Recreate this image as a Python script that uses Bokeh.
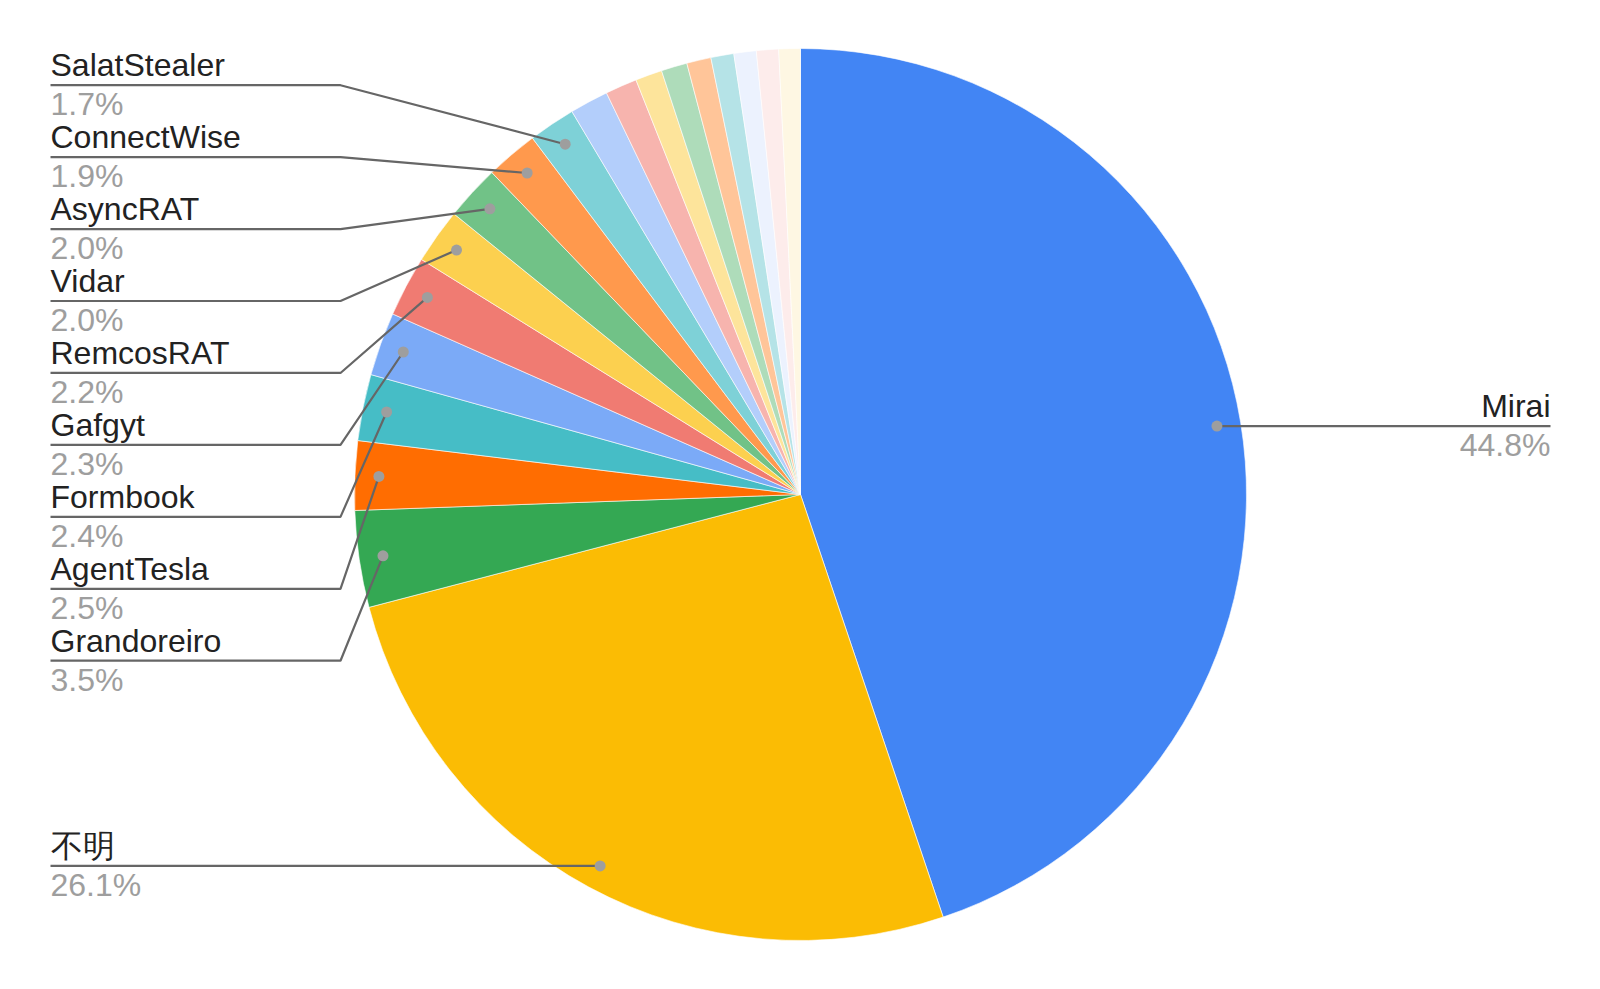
import math
from bokeh.plotting import figure
from bokeh.models import Range1d, ColumnDataSource
from bokeh.core.properties import value
from bokeh.embed import file_html
from bokeh.resources import INLINE

# ---- data ----
names = ["Mirai", "不明", "Grandoreiro", "AgentTesla", "Formbook", "Gafgyt",
         "RemcosRAT", "Vidar", "AsyncRAT", "ConnectWise", "SalatStealer",
         "", "", "", "", "", "", "", "", ""]
values = [44.8, 26.1, 3.5, 2.5, 2.4, 2.3, 2.2, 2.0, 2.0, 1.9, 1.7,
          1.4, 1.15, 0.97, 0.94, 0.88, 0.83, 0.81, 0.80, 0.78]
colors = ["#4285f4", "#fbbc04", "#34a853", "#ff6d01", "#46bdc6", "#7baaf7",
          "#f07b72", "#fcd04f", "#71c287", "#ff994d", "#7ed1d7",
          "#b3cefb", "#f7b4ae", "#fde49b", "#aedcba", "#ffc599", "#b5e3e7",
          "#ecf2fe", "#fdeceb", "#fef7e3"]
# which labeled slices go in the stacked left column (top to bottom)
left_stack = ["SalatStealer", "ConnectWise", "AsyncRAT", "Vidar", "RemcosRAT",
              "Gafgyt", "Formbook", "AgentTesla", "Grandoreiro"]

# ---- layout ----
W, H = 1580, 970
OFF = 0  # screen offset of the plot frame
SH = 989
def Y(sy):
    return SH - sy

CX, CY, R = 800, 494, 446
DOT_R = 422
FONT = value("Liberation Sans")
FS = "32px"
NAME_COLOR = "#222222"
PCT_COLOR = "#9e9e9e"
LINE_COLOR = "#666666"

p = figure(width=W, height=H, output_backend="svg", toolbar_location=None,
           x_range=Range1d(OFF, OFF + W), y_range=Range1d(Y(OFF + H), Y(OFF)),
           x_axis_type=None, y_axis_type=None, min_border=0)
p.outline_line_color = None
p.grid.visible = False
p.background_fill_color = "white"

total = sum(values)
starts, ends, mids = [], [], []
c = 0.0
for v in values:
    c0 = c / total
    c += v
    c1 = c / total
    starts.append(math.pi / 2 - 2 * math.pi * c0)
    ends.append(math.pi / 2 - 2 * math.pi * c1)
    mids.append(math.pi / 2 - 2 * math.pi * (c0 + c1) / 2)

src = ColumnDataSource(dict(start=starts, end=ends, color=colors))
p.wedge(x=CX, y=Y(CY), radius=R, start_angle="start", end_angle="end",
        direction="clock", fill_color="color", line_color="white",
        line_width=0.6, source=src)

def pct(v):
    return f"{v:.1f}%"

dot_x, dot_y = [], []
lx, ly = [], []

NAME_DY = 20
PCT_DY = -19

for i, (n, v) in enumerate(zip(names, values)):
    if not n:
        continue
    dx = CX + DOT_R * math.cos(mids[i])
    dy = Y(CY) + DOT_R * math.sin(mids[i])
    dot_x.append(dx)
    dot_y.append(dy)
    if n in left_stack:
        k = left_stack.index(n)
        line_y = Y(84.7 + k * 71.94)
        lx.append([50, 340, dx])
        ly.append([line_y, line_y, dy])
        tx, align = 50, "left"
    elif mids[i] > -math.pi / 2 and mids[i] < math.pi / 2:
        line_y = dy
        lx.append([dx, 1550])
        ly.append([line_y, line_y])
        tx, align = 1550, "right"
    else:
        line_y = dy
        lx.append([50, dx])
        ly.append([line_y, line_y])
        tx, align = 50, "left"
    p.text(x=[tx], y=[line_y + NAME_DY], text=[n], text_font=FONT,
           text_font_size=FS, text_color=NAME_COLOR, text_align=align,
           text_baseline="alphabetic")
    p.text(x=[tx], y=[line_y + PCT_DY], text=[pct(v)], text_font=FONT,
           text_font_size=FS, text_color=PCT_COLOR, text_align=align,
           text_baseline="alphabetic")

p.multi_line(xs=lx, ys=ly, line_color=LINE_COLOR, line_width=2.2)
p.scatter(x=dot_x, y=dot_y, size=11, fill_color="#9e9e9e", line_color=None)

open("out.html", "w").write(file_html(p, INLINE))
